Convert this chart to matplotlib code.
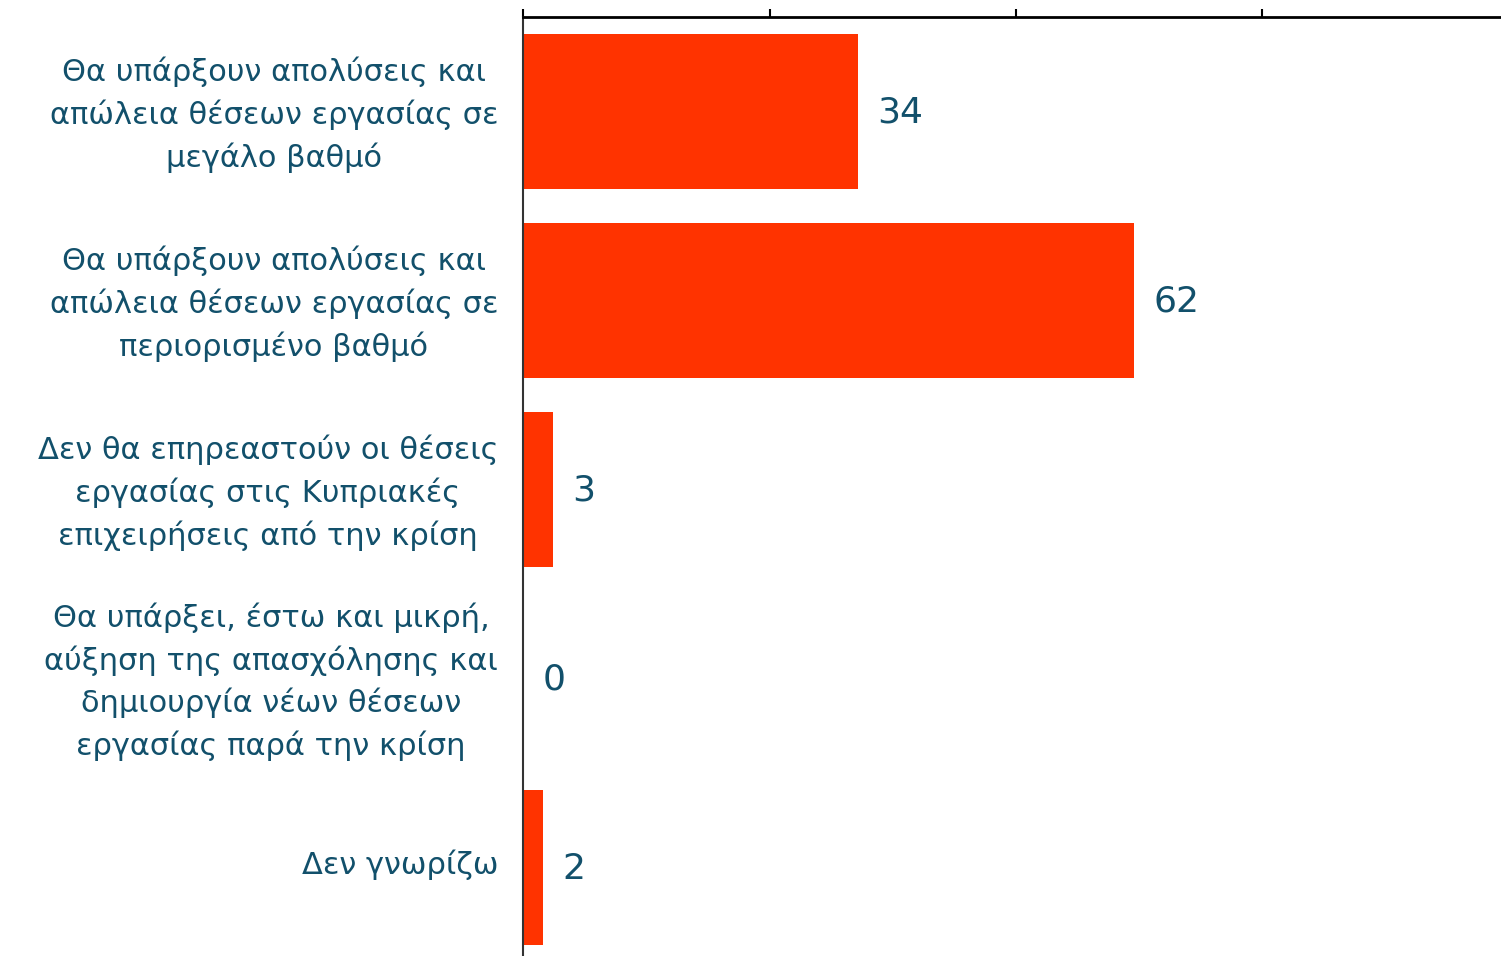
import matplotlib
matplotlib.use('Agg')
import matplotlib.pyplot as plt
import matplotlib.transforms as mtransforms

labels = [
    'Θα υπάρξουν απολύσεις και\nαπώλεια θέσεων εργασίας σε\nμεγάλο βαθμό',
    'Θα υπάρξουν απολύσεις και\nαπώλεια θέσεων εργασίας σε\nπεριορισμένο βαθμό',
    'Δεν θα επηρεαστούν οι θέσεις\nεργασίας στις Κυπριακές\nεπιχειρήσεις από την κρίση',
    'Θα υπάρξει, έστω και μικρή,\nαύξηση της απασχόλησης και\nδημιουργία νέων θέσεων\nεργασίας παρά την κρίση',
    'Δεν γνωρίζω',
]
values = [34, 62, 3, 0, 2]
xticks = [0, 25, 50, 75, 100]

text_color = '#12506b'
bar_color = '#ff3300'

fig = plt.figure(figsize=(15.01, 9.56), dpi=100)
ax = fig.add_axes([523 / 1501, -6 / 956, 986 / 1501, 945 / 956])

pos = list(range(len(values)))
ax.barh(pos, values, height=0.82, color=bar_color, zorder=2)

for p, v in zip(pos, values):
    ax.annotate(str(v), (v, p), xytext=(14, -1), textcoords='offset points',
                va='center', ha='left', fontsize=26, color=text_color)

ax.set_xlim(0, 100)
ax.set_ylim(len(values) - 0.5, -0.5)
ax.set_yticks(pos)
ax.set_yticklabels(labels, fontsize=22, color=text_color,
                   multialignment='center', linespacing=1.5)
ax.tick_params(axis='y', length=0, pad=18)

# nudge the category labels up a little
shift = mtransforms.ScaledTranslation(0, 6 / 100, fig.dpi_scale_trans)
for lbl in ax.get_yticklabels():
    lbl.set_transform(lbl.get_transform() + shift)

ax.xaxis.tick_top()
ax.set_xticks(xticks)
ax.set_xticklabels([])
ax.tick_params(axis='x', direction='out', length=6, width=1.5, color='black')

for side in ['right', 'bottom']:
    ax.spines[side].set_visible(False)
ax.spines['top'].set_linewidth(2)
ax.spines['left'].set_linewidth(1.5)
ax.spines['left'].set_color('#333333')

fig.savefig('out.png', dpi=100)
